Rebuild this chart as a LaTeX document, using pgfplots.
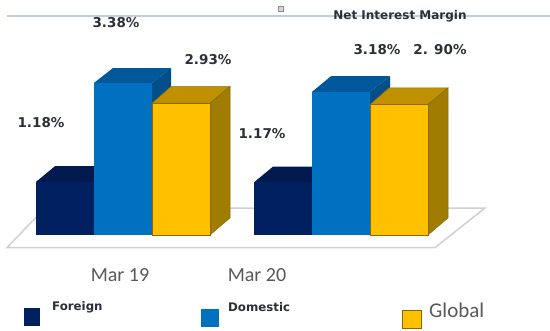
\documentclass[border=0pt]{standalone}
\usepackage{fontspec}
\setmainfont{Carlito}
\newfontfamily\labelfont{DejaVu Sans}
\usepackage{pgfplots}
\pgfplotsset{compat=1.18}
\definecolor{navy}{HTML}{002060}
\definecolor{navytop}{HTML}{001A50}
\definecolor{azure}{HTML}{0070C0}
\definecolor{azuretop}{HTML}{00589A}
\definecolor{gold}{HTML}{FFC000}
\definecolor{goldtop}{HTML}{BF9000}
\definecolor{goldside}{HTML}{A07C00}
\definecolor{goldedge}{HTML}{8A6A00}
\definecolor{rulecol}{HTML}{BFCEDA}
\definecolor{floorcol}{HTML}{D0D0D0}
\definecolor{inktext}{HTML}{2A2F38}
\definecolor{softtext}{HTML}{595959}
\newcommand{\vlabel}[3]{\node[font=\labelfont\bfseries\fontsize{#3}{#3}\selectfont,text=inktext,inner sep=0pt] at (axis cs:#1) {#2};}
\begin{document}
\begin{tikzpicture}
\useasboundingbox (0,0) rectangle (550pt,330pt);
\begin{axis}[
  at={(0,0)}, anchor=south west,
  scale only axis, width=550pt, height=330pt,
  xmin=0, xmax=550, ymin=-2.1111, ymax=5.2222,
  hide axis, clip=false,
]
% header rule
\addplot[rulecol, line width=1.6pt] coordinates {(7,4.87) (550,4.87)};
% floor
\addplot[floorcol, line width=1.5pt, fill=white] coordinates {(7,-0.28) (435,-0.28) (485,0.60) (45,0.60)} -- cycle;

% Mar 19: Foreign
\addplot[fill=navytop, draw=none] coordinates {(36,1.18) (94,1.18) (114,1.53) (55,1.53)} -- cycle;
\addplot[ybar, bar width=58pt, bar shift=0pt, fill=navy, draw=none] coordinates {(65,1.18)};
% Mar 20: Foreign
\addplot[fill=navytop, draw=none] coordinates {(254,1.17) (312,1.17) (332,1.52) (273,1.52)} -- cycle;
\addplot[ybar, bar width=58pt, bar shift=0pt, fill=navy, draw=none] coordinates {(283,1.17)};

% Mar 19: Domestic
\addplot[fill=azuretop, draw=none] coordinates {(94,3.38) (152,3.38) (171,3.71) (113,3.71)} -- cycle;
\addplot[fill=azuretop!90!black, draw=none] coordinates {(152,3.38) (171,3.71) (171,1.5) (152,1.5)} -- cycle;
\addplot[ybar, bar width=58pt, bar shift=0pt, fill=azure, draw=none] coordinates {(123,3.38)};
% Mar 20: Domestic
\addplot[fill=azuretop, draw=none] coordinates {(312,3.18) (370,3.18) (390,3.53) (331,3.53)} -- cycle;
\addplot[fill=azuretop!90!black, draw=none] coordinates {(370,3.18) (390,3.53) (390,1.5) (370,1.5)} -- cycle;
\addplot[ybar, bar width=58pt, bar shift=0pt, fill=azure, draw=none] coordinates {(341,3.18)};

% Mar 19: Global
\addplot[fill=goldtop, draw=goldedge, line width=0.5pt] coordinates {(152,2.93) (210,2.93) (230,3.30) (171,3.30)} -- cycle;
\addplot[fill=goldside, draw=goldedge, line width=0.5pt] coordinates {(210,0) (230,0.38) (230,3.30) (210,2.93)} -- cycle;
\addplot[ybar, bar width=58pt, bar shift=0pt, fill=gold, draw=goldedge, line width=0.7pt] coordinates {(181,2.93)};
% Mar 20: Global
\addplot[fill=goldtop, draw=goldedge, line width=0.5pt] coordinates {(370,2.90) (428,2.90) (448,3.27) (389,3.27)} -- cycle;
\addplot[fill=goldside, draw=goldedge, line width=0.5pt] coordinates {(428,0) (448,0.38) (448,3.27) (428,2.90)} -- cycle;
\addplot[ybar, bar width=58pt, bar shift=0pt, fill=gold, draw=goldedge, line width=0.7pt] coordinates {(399,2.90)};

% title sits on the rule, with a small marker to its left
\node[font=\labelfont\bfseries\fontsize{12}{13}\selectfont, text=inktext, inner sep=0pt] at (axis cs:400,4.87) {Net Interest Margin};
\node[draw=softtext!70, fill=softtext!25, minimum size=5pt, inner sep=0pt, line width=0.8pt] at (axis cs:281,5.02) {};

% value labels
\vlabel{116,4.71}{3.38\%}{13.5}
\vlabel{208,3.89}{2.93\%}{13.5}
\vlabel{41,2.49}{1.18\%}{13.5}
\vlabel{262,2.25}{1.17\%}{13.5}
\vlabel{377,4.13}{3.18\%}{13.5}
\vlabel{440,4.13}{2. 90\%}{13.5}

% category names
\node[font=\fontsize{20}{21}\selectfont, text=softtext, inner sep=0pt] at (axis cs:120,-0.89) {Mar 19};
\node[font=\fontsize{20}{21}\selectfont, text=softtext, inner sep=0pt] at (axis cs:257,-0.89) {Mar 20};

% legend
\addplot[fill=navy, draw=none] coordinates {(24,-1.62) (40,-1.62) (40,-2.02) (24,-2.02)} -- cycle;
\addplot[fill=azure, draw=none] coordinates {(201,-1.64) (219,-1.64) (219,-2.04) (201,-2.04)} -- cycle;
\addplot[fill=gold, draw=goldedge, line width=0.6pt] coordinates {(402,-1.67) (421,-1.67) (421,-2.07) (402,-2.07)} -- cycle;
\node[font=\labelfont\bfseries\fontsize{11.8}{12}\selectfont, text=inktext, anchor=west, inner sep=0pt] at (axis cs:52,-1.61) {Foreign};
\node[font=\labelfont\bfseries\fontsize{11.8}{12}\selectfont, text=inktext, anchor=west, inner sep=0pt] at (axis cs:228,-1.61) {Domestic};
\node[font=\fontsize{21}{22}\selectfont, text=softtext, anchor=west, inner sep=0pt] at (axis cs:429,-1.68) {Global};
\end{axis}
\end{tikzpicture}
\end{document}
